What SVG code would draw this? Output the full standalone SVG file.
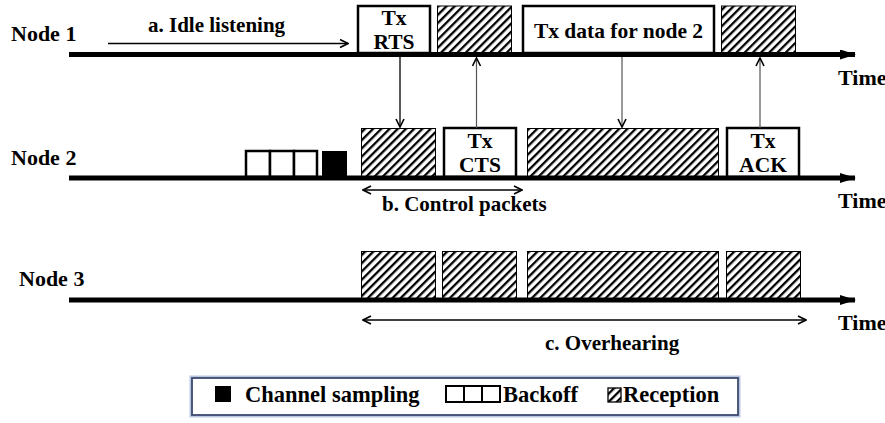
<svg xmlns="http://www.w3.org/2000/svg" width="885" height="423" viewBox="0 0 885 423">
<style>
  text { font-family: "Liberation Serif", "Times New Roman", serif; font-weight: bold; fill: #000; }
  .lbl { font-size: 22px; }
  .box { font-size: 21.5px; }
  .note { font-size: 21px; }
  .leg { font-size: 22.5px; }
  .tx { fill: #fff; stroke: #000; stroke-width: 2.5; }
  .rx { fill: url(#hatch); stroke: #000; stroke-width: 1; }
  .tl { stroke: #000; stroke-width: 5; fill: none; }
  .thin { stroke: #000; stroke-width: 1.3; fill: none; }
  .gray { stroke: #555; stroke-width: 1.2; fill: none; }
</style>
<defs>
  <pattern id="hatch" patternUnits="userSpaceOnUse" width="5.8" height="10" patternTransform="rotate(45)">
    <rect x="0" y="0" width="2.3" height="10" fill="#000"/>
  </pattern>
  <marker id="tri" viewBox="0 0 16 10" refX="15" refY="5" markerWidth="16" markerHeight="10" markerUnits="userSpaceOnUse" orient="auto">
    <path d="M0,0 L16,5 L0,10 Z" fill="#000"/>
  </marker>
  <marker id="chev" viewBox="0 0 10 10" refX="9" refY="5" markerWidth="10" markerHeight="10" markerUnits="userSpaceOnUse" orient="auto-start-reverse">
    <path d="M1,1 L9,5 L1,9" fill="none" stroke="#000" stroke-width="1.6"/>
  </marker>
</defs>

<g id="node1">
  <text class="lbl" x="11" y="41">Node 1</text>
  <rect class="tx" x="358" y="6" width="72" height="47"/>
  <text class="box" x="394" y="25" text-anchor="middle">Tx</text>
  <text class="box" x="394" y="49" text-anchor="middle">RTS</text>
  <rect class="rx" x="437.5" y="6" width="74" height="47"/>
  <rect class="tx" x="523" y="6" width="191" height="47"/>
  <text class="box" x="618.5" y="38" text-anchor="middle">Tx data for node 2</text>
  <rect class="rx" x="721.5" y="6" width="74" height="47"/>
  <line class="tl" x1="69" y1="54.5" x2="855" y2="54.5" marker-end="url(#tri)"/>
  <text class="lbl" x="838" y="85">Time</text>
</g>

<g id="node2">
  <text class="lbl" x="11" y="165">Node 2</text>
  <rect class="tx" x="246" y="151" width="24" height="26" stroke-width="2"/>
  <rect class="tx" x="270" y="151" width="24" height="26" stroke-width="2"/>
  <rect class="tx" x="294" y="151" width="23" height="26" stroke-width="2"/>
  <rect x="322" y="151" width="25" height="27" fill="#000"/>
  <rect class="rx" x="361.5" y="128.5" width="74" height="48"/>
  <rect class="tx" x="444" y="128" width="72" height="49"/>
  <text class="box" x="480" y="148" text-anchor="middle">Tx</text>
  <text class="box" x="480" y="172" text-anchor="middle">CTS</text>
  <rect class="rx" x="527.5" y="128.5" width="191" height="48"/>
  <rect class="tx" x="727" y="128" width="72" height="49"/>
  <text class="box" x="763" y="148" text-anchor="middle">Tx</text>
  <text class="box" x="763" y="172" text-anchor="middle">ACK</text>
  <line class="tl" x1="69" y1="178" x2="855" y2="178" marker-end="url(#tri)"/>
  <text class="lbl" x="838" y="208">Time</text>
</g>

<g id="node3">
  <text class="lbl" x="19" y="286">Node 3</text>
  <rect class="rx" x="361.5" y="251.5" width="74" height="47"/>
  <rect class="rx" x="442.5" y="251.5" width="74" height="47"/>
  <rect class="rx" x="527.5" y="251.5" width="191" height="47"/>
  <rect class="rx" x="726.5" y="251.5" width="74" height="47"/>
  <line class="tl" x1="69" y1="300" x2="855" y2="300" marker-end="url(#tri)"/>
  <text class="lbl" x="838" y="330">Time</text>
</g>

<g id="connectors">
  <line class="thin" x1="108" y1="43.5" x2="348" y2="43.5" marker-end="url(#chev)"/>
  <line class="thin" x1="400" y1="57" x2="400" y2="127" stroke-width="1.6" marker-end="url(#chev)"/>
  <line class="gray" x1="476.5" y1="128" x2="476.5" y2="58" marker-end="url(#chev)"/>
  <line class="gray" x1="622" y1="57" x2="622" y2="127" marker-end="url(#chev)"/>
  <line class="gray" x1="760" y1="128" x2="760" y2="58" marker-end="url(#chev)"/>
  <line class="thin" x1="363" y1="190" x2="522" y2="190" marker-start="url(#chev)" marker-end="url(#chev)"/>
  <line class="thin" x1="363" y1="320" x2="806" y2="320" marker-start="url(#chev)" marker-end="url(#chev)"/>
</g>

<g id="notes">
  <text class="note" x="148" y="32">a. Idle listening</text>
  <text class="note" x="382" y="211">b. Control packets</text>
  <text class="note" x="545" y="350">c. Overhearing</text>
</g>

<g id="legend">
  <rect x="192" y="378" width="546" height="37" fill="#fff" stroke="#b9c6e0" stroke-width="5"/>
  <rect x="192" y="378" width="546" height="37" fill="#fff" stroke="#3c4a6e" stroke-width="1.8"/>
  <rect x="215" y="386" width="16" height="16" fill="#000"/>
  <text class="leg" x="245" y="402">Channel sampling</text>
  <rect x="446" y="386" width="18" height="16" fill="#fff" stroke="#000" stroke-width="2"/>
  <rect x="464" y="386" width="18" height="16" fill="#fff" stroke="#000" stroke-width="2"/>
  <rect x="482" y="386" width="18" height="16" fill="#fff" stroke="#000" stroke-width="2"/>
  <text class="leg" x="503" y="402">Backoff</text>
  <rect x="608" y="388" width="13" height="14" fill="url(#hatch)" stroke="#000" stroke-width="1.3"/>
  <text class="leg" x="623" y="402">Reception</text>
</g>
</svg>
